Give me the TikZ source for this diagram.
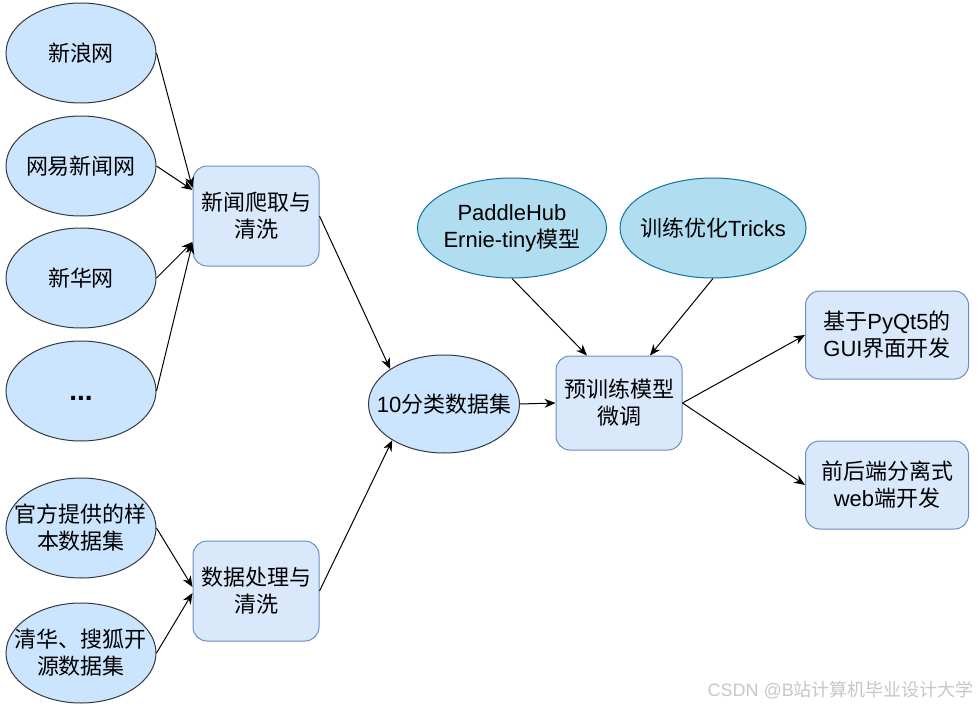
\documentclass[tikz,border=0pt]{standalone}
\usepackage{fontspec}
\setmainfont{Noto Sans CJK SC}
\newfontfamily\lt{Liberation Sans}
\usetikzlibrary{shapes.geometric,arrows.meta}
\definecolor{ellfill}{HTML}{CCE5FF}
\definecolor{elldraw}{HTML}{36393D}
\definecolor{boxfill}{HTML}{DAE8FC}
\definecolor{boxdraw}{HTML}{6C8EBF}
\definecolor{tealfill}{HTML}{B1DDF0}
\definecolor{tealdraw}{HTML}{10739E}
\newcommand{\LA}[1]{{\lt #1}}
\begin{document}
\begin{tikzpicture}[x=1pt,y=-1pt,
  txt/.style={font=\fontsize{22}{27}\selectfont, align=center, text=black, inner sep=0pt},
  src/.style={ellipse, draw=elldraw, fill=ellfill, line width=1pt, minimum width=150pt, minimum height=100pt, inner sep=0pt},
  tool/.style={ellipse, draw=tealdraw, fill=tealfill, line width=1pt, minimum height=100pt, inner sep=0pt},
  stepbox/.style={rectangle, rounded corners=14pt, draw=boxdraw, fill=boxfill, line width=1pt, minimum width=126pt, minimum height=100pt, inner sep=0pt},
  arr/.style={-{Stealth[length=11pt,width=9pt]}, line width=1pt, black}
]
\useasboundingbox (0,0) rectangle (978,709);
\fill[white] (0,0) rectangle (978,709);

% sources
\node[src, label={[txt]center:新浪网}] (s1) at (81,53) {};
\node[src, label={[txt]center:网易新闻网}] (s2) at (81,166) {};
\node[src, label={[txt]center:新华网}] (s3) at (81,278) {};
\node[src, label={[txt,yshift=-7pt,font=\lt\bfseries\fontsize{28}{30}\selectfont]center:...}] (s4) at (81,391) {};
\node[src, label={[txt]center:官方提供的样\\本数据集}] (s5) at (81,528) {};
\node[src, label={[txt]center:清华、搜狐开\\源数据集}] (s6) at (81,653) {};

% processing boxes
\node[stepbox, label={[txt]center:新闻爬取与\\清洗}] (b1) at (256,216) {};
\node[stepbox, label={[txt]center:数据处理与\\清洗}] (b2) at (256,591) {};

% dataset
\node[src, minimum width=151pt, minimum height=98pt, label={[txt]center:\LA{10}分类数据集}] (ds) at (444,404) {};

% fine-tune
\node[stepbox, minimum height=94pt, label={[txt]center:预训练模型\\微调}] (ft) at (619,403) {};

% tools
\node[tool, minimum width=189pt, label={[txt]center:\LA{PaddleHub}\\\LA{Ernie-tiny}模型}] (t1) at (512,228) {};
\node[tool, minimum width=186pt, label={[txt]center:训练优化\LA{Tricks}}] (t2) at (713,228) {};

% outputs
\node[stepbox, minimum width=163pt, minimum height=88pt, label={[txt]center:基于\LA{PyQt5}的\\\LA{GUI}界面开发}] (o1) at (887,335) {};
\node[stepbox, minimum width=163pt, minimum height=88pt, label={[txt]center:前后端分离式\\\LA{web}端开发}] (o2) at (887,485) {};

% connectors
\draw[arr] (s1.east) -- ([yshift=28pt]b1.west);
\draw[arr] (s2.east) -- ([yshift=26pt]b1.west);
\draw[arr] (s3.east) -- ([yshift=-26pt]b1.west);
\draw[arr] (s4.east) -- ([yshift=-27pt]b1.west);
\draw[arr] (s5.east) -- ([yshift=4pt]b2.west);
\draw[arr] (s6.east) -- ([yshift=-2pt]b2.west);
\draw[arr] (b1.east) -- (ds.147);
\draw[arr] (b2.east) -- (ds.215);
\draw[arr] (ds.east) -- (ft.west);
\draw[arr] (t1.south) -- ([xshift=-32pt]ft.north);
\draw[arr] (t2.south) -- ([xshift=31pt]ft.north);
\draw[arr] (ft.east) -- (o1.west);
\draw[arr] (ft.east) -- (o2.west);

% watermark
\node[anchor=east, inner sep=0pt, text=black!22, font=\fontsize{18}{20}\selectfont] (wm) at (974,690) {\LA{CSDN @B}站计算机毕业设计大学};
\end{tikzpicture}
\end{document}
